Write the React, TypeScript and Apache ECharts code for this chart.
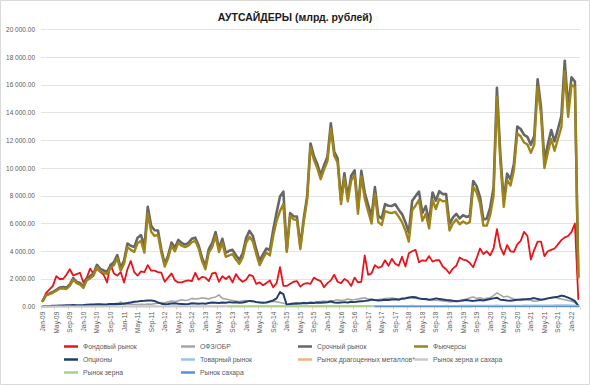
import React, { useEffect, useRef } from "react";
import * as echarts from "echarts";

const monthNames = ["Jan", "Feb", "Mar", "Apr", "May", "Jun", "Jul", "Aug", "Sep", "Oct", "Nov", "Dec"];
const years = ["09", "10", "11", "12", "13", "14", "15", "16", "17", "18", "19", "20", "21", "22"];
const lastYearMonths = 3;
const categories: string[] = [];
years.forEach((y, yi) => {
  const n = yi === years.length - 1 ? lastYearMonths : 12;
  for (let m = 0; m < n; m++) categories.push(`${monthNames[m]}-${y}`);
});

const stockMarket = [
  400, 1000, 1250, 1500, 2200, 2000, 2000, 2300, 2700, 2250, 2350, 2450,
  1750, 2100, 2750, 2350, 2750, 2500, 2300, 1750, 3050, 2400, 2250, 2500,
  1750, 2700, 3300, 2500, 2250, 2550, 2500, 3000, 2600, 2600, 2500, 2450,
  1800, 2100, 2400, 1900, 1750, 1750, 1850, 1900, 1850, 2450, 1950, 2150,
  2100, 1850, 2400, 2450, 1800, 2200, 2000, 2200, 1750, 2350, 2000, 1800,
  1950, 2300, 2200, 1650, 1750, 1550, 1700, 1900, 1400, 1700, 2850, 1500,
  1500, 1650, 1800, 1850, 1450, 1650, 1700, 1650, 2100, 1950, 1850, 1400,
  1700, 1900, 2300, 1800, 1700, 2000, 1850, 1500, 2100, 1750, 1800, 3700,
  2300, 2400, 3000, 2800, 2900, 3350, 2950, 3450, 3100, 2950, 3600, 2900,
  3850, 4000, 4100, 3200, 3350, 3300, 3650, 3250, 3350, 3350, 2900, 2700,
  2400, 2750, 2950, 3550, 3400, 3350, 3150, 2850, 3500, 4200, 3800, 4000,
  3700, 4200, 5600, 4300, 3750, 4450, 4000, 3950, 4500, 4750, 5400, 5100,
  3400, 4100, 4700, 4700, 3650, 4000, 4100, 4200, 4500, 4800, 5000, 5100,
  5400, 6000, 550,
];

const ofzObr = [
  0, 0, 0, 10, 20, 30, 50, 40, 60, 80, 70, 60,
  50, 60, 80, 70, 90, 100, 80, 100, 120, 130, 150, 350,
  150, 200, 180, 160, 150, 170, 160, 200, 180, 220, 250, 300,
  280, 350, 400, 380, 420, 500, 450, 480, 600, 550, 580, 650,
  600, 550, 650, 700, 850, 600, 550, 500, 450, 400, 380, 420,
  450, 400, 380, 350, 330, 300, 320, 380, 400, 350, 300, 250,
  200, 180, 150, 200, 250, 300, 280, 320, 300, 350, 380, 400,
  380, 420, 450, 500, 450, 480, 550, 500, 520, 550, 600, 650,
  550, 500, 480, 520, 550, 580, 600, 620, 580, 560, 600, 650,
  700, 650, 600, 580, 550, 520, 500, 480, 460, 450, 420, 400,
  350, 380, 400, 450, 500, 550, 650, 700, 600, 650, 550, 600,
  650, 800, 1000, 850, 700, 750, 650, 550, 500, 450, 480, 500,
  450, 400, 420, 500, 550, 600, 650, 700, 600, 550, 500, 450,
  400, 300, 100,
];

const derivatives = [
  430, 860, 950, 1060, 1220, 1380, 1420, 1380, 1610, 2070, 1800, 1710,
  1470, 2040, 2210, 2400, 3020, 2730, 2610, 2520, 2990, 3200, 3720, 2800,
  3330, 4560, 4400, 4300, 4980, 5170, 4330, 7200, 5840, 5520, 5500, 4120,
  3080, 3700, 4630, 4250, 4820, 4600, 4480, 4600, 4900, 4980, 4410, 3540,
  2920, 4160, 4600, 5380, 4210, 4900, 3880, 4030, 4100, 3720, 3380, 3850,
  4960, 5470, 5100, 4130, 3300, 3780, 4200, 4080, 5550, 6800, 7950, 8300,
  4070, 6750, 6530, 6500, 4380, 6360, 7950, 11780, 10870, 10300, 9490, 10210,
  10820, 13230, 11200, 10690, 7710, 9630, 7900, 9450, 9830, 7080, 9800, 8220,
  7350, 6520, 8630, 6550, 6370, 7400, 7280, 7270, 7390, 7000, 6680, 6100,
  5350, 7650, 7980, 8300, 6760, 7250, 6150, 8240, 7650, 8340, 8120, 8130,
  5960, 6430, 6700, 6370, 6600, 6480, 6540, 9070, 8700, 7930, 6300, 6350,
  7150, 8600, 15800, 11000, 7680, 9600, 9180, 10320, 13000, 12820, 12390, 12250,
  11680, 12320, 16410, 14400, 10540, 11700, 12750, 11930, 12820, 13750, 17750, 14350,
  16550, 16250, 2160,
];

const futures = [
  400, 820, 900, 1000, 1150, 1300, 1330, 1280, 1500, 1950, 1700, 1600,
  1350, 1900, 2050, 2250, 2850, 2550, 2450, 2350, 2800, 3000, 3500, 2600,
  3100, 4300, 4100, 3950, 4600, 4750, 3900, 6750, 5400, 5100, 5200, 3900,
  2900, 3500, 4400, 4000, 4600, 4400, 4300, 4400, 4650, 4750, 4200, 3300,
  2700, 3900, 4300, 5100, 3950, 4600, 3600, 3700, 3800, 3400, 3100, 3550,
  4600, 5050, 4700, 3800, 3000, 3500, 3900, 3700, 5100, 6200, 6900, 7400,
  3950, 6550, 6300, 6250, 4150, 6100, 7700, 11500, 10600, 10000, 9200, 9900,
  10500, 12850, 10900, 10400, 7400, 9300, 7600, 9100, 9500, 6700, 9400, 7800,
  6900, 6000, 8150, 6100, 5900, 6900, 6800, 6750, 6850, 6500, 6100, 5500,
  4700, 6950, 7300, 7700, 6200, 6700, 5650, 7700, 7050, 7780, 7600, 7650,
  5500, 6000, 6300, 5950, 6150, 6000, 6100, 8650, 8250, 7450, 5850, 5850,
  6600, 8000, 15150, 10500, 7200, 9150, 8750, 9850, 12500, 12300, 11850, 11700,
  11100, 11700, 15850, 13900, 10000, 11100, 12100, 11250, 12100, 12950, 17000, 13700,
  16000, 15850, 2100,
];

const options = [
  30, 40, 50, 60, 70, 80, 90, 100, 110, 120, 100, 110,
  120, 140, 160, 150, 170, 180, 160, 170, 190, 200, 220, 200,
  230, 260, 300, 350, 380, 420, 430, 450, 440, 420, 300, 220,
  180, 200, 230, 250, 220, 200, 180, 200, 250, 230, 210, 240,
  220, 260, 300, 280, 260, 300, 280, 330, 300, 320, 280, 300,
  360, 420, 400, 330, 300, 280, 300, 380, 450, 600, 1050, 900,
  120, 200, 230, 250, 230, 260, 250, 280, 270, 300, 290, 310,
  320, 380, 300, 290, 310, 330, 300, 350, 330, 380, 400, 420,
  450, 520, 480, 450, 470, 500, 480, 520, 540, 500, 580, 600,
  650, 700, 680, 600, 560, 550, 500, 540, 600, 560, 520, 480,
  460, 430, 400, 420, 450, 480, 440, 420, 450, 480, 450, 500,
  550, 600, 650, 500, 480, 450, 430, 470, 500, 520, 540, 550,
  580, 620, 560, 500, 540, 600, 650, 680, 720, 800, 750, 650,
  550, 400, 60,
];

const commodity = [
  5, 6, 8, 7, 9, 10, 8, 9, 11, 10, 9, 8,
  10, 12, 11, 13, 12, 14, 15, 13, 16, 15, 14, 12,
  15, 16, 18, 17, 19, 20, 18, 21, 22, 20, 19, 18,
  20, 22, 21, 24, 23, 25, 22, 24, 26, 25, 23, 22,
  24, 26, 28, 27, 25, 29, 30, 28, 27, 31, 29, 28,
  30, 32, 29, 31, 33, 35, 32, 34, 38, 40, 42, 36,
  34, 36, 38, 35, 37, 40, 39, 41, 38, 42, 44, 40,
  42, 45, 43, 41, 44, 46, 48, 45, 47, 50, 52, 49,
  48, 50, 55, 60, 58, 62, 65, 63, 60, 66, 70, 68,
  72, 75, 70, 68, 66, 64, 62, 65, 68, 70, 72, 74,
  70, 68, 72, 75, 78, 80, 76, 74, 78, 82, 85, 80,
  84, 90, 95, 88, 86, 82, 80, 85, 88, 92, 95, 98,
  100, 105, 98, 95, 102, 108, 110, 112, 115, 118, 120, 115,
  110, 100, 40,
];

const preciousMetals = [
  1, 1, 2, 1, 2, 2, 1, 2, 2, 1, 2, 2,
  2, 2, 3, 2, 3, 3, 2, 3, 3, 2, 3, 3,
  3, 3, 4, 3, 4, 4, 3, 4, 4, 3, 4, 4,
  4, 4, 5, 4, 5, 5, 4, 5, 5, 4, 5, 5,
  5, 5, 6, 5, 6, 6, 5, 6, 6, 5, 6, 6,
  6, 6, 7, 6, 7, 7, 6, 7, 8, 9, 10, 8,
  7, 7, 8, 7, 8, 8, 7, 8, 8, 7, 8, 8,
  8, 8, 9, 8, 9, 9, 8, 9, 9, 8, 9, 9,
  9, 9, 10, 9, 10, 10, 9, 10, 10, 9, 10, 10,
  10, 10, 11, 10, 11, 11, 10, 11, 11, 10, 11, 11,
  11, 11, 12, 11, 12, 12, 11, 12, 12, 11, 12, 12,
  14, 16, 18, 15, 14, 13, 12, 13, 14, 13, 14, 15,
  15, 16, 15, 14, 15, 16, 17, 16, 15, 16, 17, 16,
  15, 14, 5,
];

const grainSugar = [
  4, 5, 6, 5, 6, 7, 6, 7, 8, 7, 6, 7,
  7, 8, 9, 8, 9, 10, 9, 10, 11, 10, 9, 10,
  10, 11, 12, 11, 12, 13, 12, 13, 14, 13, 12, 13,
  13, 14, 15, 14, 15, 16, 15, 16, 17, 16, 15, 16,
  16, 17, 18, 17, 18, 19, 18, 19, 20, 19, 18, 19,
  19, 20, 21, 20, 21, 22, 21, 22, 24, 26, 28, 24,
  22, 23, 24, 23, 24, 25, 24, 25, 26, 25, 24, 25,
  25, 26, 27, 26, 27, 28, 27, 28, 29, 28, 27, 28,
  28, 29, 30, 29, 30, 31, 30, 31, 32, 31, 30, 31,
  31, 32, 33, 32, 33, 34, 33, 34, 35, 34, 33, 34,
  34, 35, 36, 35, 36, 37, 36, 37, 38, 37, 36, 37,
  38, 40, 42, 40, 38, 37, 36, 37, 38, 39, 40, 41,
  42, 44, 43, 42, 43, 44, 45, 46, 47, 48, 47, 46,
  45, 42, 15,
];

// Grain market traded Aug-13 .. Feb-17
const grainStart = 55;
const grainValues = [
  14, 15, 16, 17, 18,
  17, 19, 20, 21, 23, 25, 22, 20, 21, 22, 21, 22,
  23, 22, 23, 24, 23, 22, 23, 23, 24, 25, 24, 25,
  26, 25, 26, 27, 26, 25, 26, 26, 27, 28, 27, 28,
  29, 28,
];
// Sugar market traded Mar-17 .. Mar-22
const sugarStart = 98;
const sugarValues = [
  3, 4, 4, 5, 5, 6, 5, 6, 6, 7,
  7, 8, 7, 6, 6, 5, 5, 6, 6, 7,
  7, 8, 8, 9, 9, 8, 8, 9, 9, 10,
  10, 11, 12, 10, 9, 9, 8, 9, 10, 10,
  11, 11, 10, 10, 11, 12, 12, 13, 13, 14,
  14, 13, 12, 12, 11, 12, 13, 12, 11, 10,
  4,
];

const pad = (start: number, vals: number[]) => {
  const out: (number | null)[] = new Array(categories.length).fill(null);
  vals.forEach((v, k) => { if (start + k < out.length) out[start + k] = v; });
  return out;
};

const seriesDefs = [
  { name: "Фондовый рынок", data: stockMarket, color: "#e8141b", width: 1.8 },
  { name: "ОФЗ/ОБР", data: ofzObr, color: "#a6a6a6", width: 1.6 },
  { name: "Срочный рынок", data: derivatives, color: "#666666", width: 2.6 },
  { name: "Фьючерсы", data: futures, color: "#9e8419", width: 2.4 },
  { name: "Опционы", data: options, color: "#233e6e", width: 2 },
  { name: "Товарный рынок", data: commodity, color: "#9dc3e6", width: 1.6 },
  { name: "Рынок драгоценных металлов*", data: preciousMetals, color: "#f4b183", width: 1.6 },
  { name: "Рынок зерна и сахара", data: grainSugar, color: "#c9c9c9", width: 1.6 },
  { name: "Рынок зерна", data: pad(grainStart, grainValues), color: "#a9d18e", width: 1.6 },
  { name: "Рынок сахара", data: pad(sugarStart, sugarValues), color: "#5b8fd0", width: 1.6 },
];

const legendColumns = [
  { left: 64, names: ["Фондовый рынок", "Опционы", "Рынок зерна"] },
  { left: 181, names: ["ОФЗ/ОБР", "Товарный рынок", "Рынок сахара"] },
  { left: 298, names: ["Срочный рынок", "Рынок драгоценных металлов*"] },
  { left: 414, names: ["Фьючерсы", "Рынок зерна и сахара"] },
];

const FONT = "'Liberation Sans', Arial, sans-serif";

const fmt = (v: number) => String(Math.round(v)).replace(/\B(?=(\d{3})+(?!\d))/g, " ") + ".00";

export default function App() {
  const ref = useRef<HTMLDivElement>(null);
  useEffect(() => {
    if (!ref.current) return;
    const chart = echarts.init(ref.current, undefined, { renderer: "svg" });
    chart.setOption({
      animation: false,
      backgroundColor: "#ffffff",
      textStyle: { fontFamily: FONT },
      title: {
        text: "АУТСАЙДЕРЫ (млрд. рублей)",
        left: "center",
        top: 6,
        textStyle: { fontSize: 10.5, fontWeight: "bold", color: "#1a1a1a", fontFamily: FONT },
      },
      graphic: [
        {
          type: "rect",
          shape: { x: 0.5, y: 0.5, width: 589, height: 384 },
          style: { fill: "none", stroke: "#d9d9d9", lineWidth: 1 },
          silent: true,
        },
      ],
      legend: legendColumns.map((c) => ({
        data: c.names,
        orient: "vertical",
        left: c.left,
        top: 340,
        itemGap: 0,
        itemWidth: 14,
        itemHeight: 2.5,
        icon: "rect",
        selectedMode: false,
        padding: 0,
        textStyle: { fontSize: 6.8, color: "#595959", lineHeight: 13, fontFamily: FONT },
      })),
      grid: { left: 41, right: 10, top: 29.5, bottom: 78.3, containLabel: false },
      xAxis: {
        type: "category",
        data: categories,
        boundaryGap: true,
        axisLine: { lineStyle: { color: "#d9d9d9", width: 1 } },
        axisTick: { show: true, interval: 3, length: 3, lineStyle: { color: "#d9d9d9" } },
        axisLabel: { interval: 3, rotate: 90, fontSize: 6.5, color: "#595959", margin: 5, fontFamily: FONT },
        splitLine: { show: false },
      },
      yAxis: {
        type: "value",
        min: 0,
        max: 20000,
        interval: 2000,
        axisLine: { show: false },
        axisTick: { show: false },
        axisLabel: { fontSize: 6.5, color: "#595959", margin: 6, formatter: fmt, fontFamily: FONT },
        splitLine: { lineStyle: { color: "#e3e3e3", width: 1 } },
      },
      series: seriesDefs.map((s) => ({
        name: s.name,
        type: "line",
        data: s.data,
        symbol: "none",
        showSymbol: false,
        connectNulls: false,
        color: s.color,
        lineStyle: { color: s.color, width: s.width, join: "round", cap: "round" },
        emphasis: { disabled: true },
      })),
    });
    return () => chart.dispose();
  }, []);
  return (
    <div style={{ position: "fixed", left: 0, top: 0, width: 590, height: 385, background: "#fff" }}>
      <div ref={ref} style={{ width: 590, height: 385 }} />
    </div>
  );
}
